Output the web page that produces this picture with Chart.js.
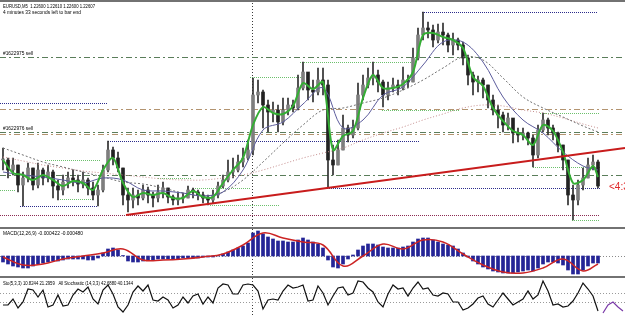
<!DOCTYPE html>
<html><head><meta charset="utf-8">
<script src="https://cdn.jsdelivr.net/npm/chart.js@4.4.1/dist/chart.umd.min.js"></script>
<style>
html,body{margin:0;padding:0;background:#fff;width:625px;height:317px;overflow:hidden;position:relative}
canvas{position:absolute;left:0}
.sep{position:absolute;left:0;width:625px;height:2px;background:#727272}
</style></head><body>
<canvas id="main" width="625" height="227" style="top:0"></canvas>
<div class="sep" style="top:227px"></div>
<canvas id="macd" width="625" height="47" style="top:229px"></canvas>
<div class="sep" style="top:276px"></div>
<canvas id="sto" width="625" height="39" style="top:278px"></canvas>
<div class="sep" style="top:0;height:2px"></div>
<script>
// ---------- DATA ----------
const symbolText = 'EURUSD,M5  1.22600 1.22610 1.22600 1.22607';
const timerText = '4 minutes 33 seconds left to bar end';
const countdownText = '<4:33';
const macdText = 'MACD(12,26,9) -0.000422 -0.000480';
const stoText = 'Sto(5,3,3) 10.8244 21.2959   All Stochastic (14,3,3) 42.6880 40.1344';

const closes = [1.22737,1.22687,1.22712,1.22612,1.22647,1.22697,1.22612,1.22687,1.22647,1.22677,
 1.22607,1.22587,1.22627,1.22647,1.22637,1.22617,1.22637,1.22597,1.22562,1.22587,
 1.22687,1.22787,1.22747,1.22697,1.22562,1.22537,1.22562,1.22547,1.22587,1.22562,
 1.22547,1.22577,1.22597,1.22552,1.22537,1.22547,1.22547,1.22587,1.22577,1.22562,
 1.22547,1.22537,1.22562,1.22607,1.22637,1.22677,1.22687,1.22727,1.22747,1.22787,
 1.23062,1.23077,1.23012,1.22977,1.22987,1.22927,1.22987,1.23012,1.22997,1.23097,
 1.23177,1.23087,1.23077,1.23137,1.23112,1.22737,1.22712,1.22787,1.22897,1.22862,
 1.22897,1.23062,1.23112,1.23147,1.23162,1.23127,1.23062,1.23097,1.23112,1.23097,
 1.23137,1.23127,1.23247,1.23362,1.23397,1.23387,1.23337,1.23377,1.23362,1.23312,
 1.23337,1.23312,1.23247,1.23162,1.23127,1.23137,1.23112,1.23037,1.22987,1.22962,
 1.22912,1.22947,1.22872,1.22862,1.22872,1.22847,1.22762,1.22887,1.22937,1.22897,
 1.22872,1.22812,1.22737,1.22562,1.22537,1.22612,1.22647,1.22712,1.22727,1.22607];

const highs = [1.22797,1.22747,1.22747,1.22712,1.22677,1.22722,1.22697,1.22722,1.22697,1.22712,
 1.22687,1.22637,1.22662,1.22677,1.22687,1.22662,1.22677,1.22647,1.22627,1.22612,
 1.22712,1.22832,1.22802,1.22777,1.22697,1.22597,1.22597,1.22587,1.22612,1.22602,
 1.22577,1.22612,1.22627,1.22597,1.22562,1.22572,1.22572,1.22607,1.22597,1.22587,
 1.22577,1.22562,1.22587,1.22627,1.22662,1.22737,1.22747,1.22762,1.22797,1.22837,
 1.23147,1.23137,1.23087,1.23037,1.23027,1.23012,1.23047,1.23047,1.23037,1.23162,
 1.23227,1.23162,1.23137,1.23197,1.23197,1.23137,1.22812,1.22837,1.22962,1.22912,
 1.22937,1.23122,1.23162,1.23197,1.23227,1.23187,1.23137,1.23127,1.23147,1.23137,
 1.23202,1.23162,1.23297,1.23397,1.23477,1.23427,1.23412,1.23417,1.23422,1.23372,
 1.23372,1.23347,1.23327,1.23262,1.23177,1.23157,1.23147,1.23112,1.23062,1.23012,
 1.22977,1.22972,1.22937,1.22897,1.22897,1.22877,1.22862,1.22912,1.22972,1.22947,
 1.22912,1.22877,1.22812,1.22737,1.22612,1.22637,1.22697,1.22747,1.22762,1.22737];

const lows = [1.22687,1.22647,1.22662,1.22577,1.22507,1.22627,1.22587,1.22597,1.22612,1.22627,
 1.22547,1.22537,1.22562,1.22597,1.22607,1.22577,1.22597,1.22562,1.22537,1.22507,
 1.22577,1.22677,1.22712,1.22677,1.22512,1.22477,1.22497,1.22512,1.22537,1.22522,
 1.22502,1.22527,1.22547,1.22522,1.22512,1.22512,1.22522,1.22547,1.22547,1.22537,
 1.22522,1.22512,1.22522,1.22547,1.22597,1.22627,1.22647,1.22677,1.22702,1.22737,
 1.22762,1.23022,1.22897,1.22877,1.22927,1.22877,1.22912,1.22962,1.22977,1.22987,
 1.23087,1.23037,1.23027,1.23062,1.23062,1.22597,1.22662,1.22712,1.22787,1.22827,
 1.22847,1.22887,1.23037,1.23097,1.23112,1.23077,1.23002,1.23037,1.23077,1.23062,
 1.23087,1.23097,1.23127,1.23237,1.23337,1.23347,1.23302,1.23322,1.23312,1.23277,
 1.23262,1.23287,1.23212,1.23112,1.23062,1.23077,1.23047,1.22997,1.22962,1.22897,
 1.22877,1.22887,1.22822,1.22827,1.22837,1.22812,1.22702,1.22747,1.22877,1.22862,
 1.22837,1.22777,1.22687,1.22512,1.22437,1.22512,1.22587,1.22647,1.22687,1.22597];

// fast MA (green), sampled every 2 bars
const fastBars = [0,2,4,6,8,10,12,14,16,18,20,22,24,26,28,30,32,34,36,38,40,42,44,46,48,50,52,54,56,58,
 60,62,64,66,68,70,72,74,76,78,80,82,84,86,88,90,92,94,96,98,100,102,104,106,108,110,112,114,116,118,119];
const fastMA = [1.22737,1.22672,1.22662,1.22637,1.22662,1.22637,1.22607,1.22632,1.22622,1.22587,
 1.22687,1.22747,1.22622,1.22552,1.22572,1.22562,1.22572,1.22547,1.22547,1.22582,
 1.22552,1.22552,1.22622,1.22687,1.22747,1.22912,1.23002,1.22972,1.22967,1.23007,
 1.23122,1.23092,1.23127,1.22787,1.22857,1.22882,1.23047,1.23162,1.23097,1.23097,
 1.23117,1.23177,1.23362,1.23372,1.23352,1.23337,1.23297,1.23152,1.23107,1.22997,
 1.22932,1.22882,1.22862,1.22812,1.22912,1.22882,1.22777,1.22622,1.22637,1.22707,1.22652];

// slower MAs, sampled every 4 bars
const slowBars = [0,4,8,12,16,20,24,28,32,36,40,44,48,52,56,60,64,68,72,76,80,84,88,92,96,100,104,108,112,116,119];
const midMA = [1.22677,1.22662,1.22652,1.22637,1.22622,1.22647,1.22637,1.22587,1.22582,1.22572,
 1.22557,1.22577,1.22687,1.22887,1.22927,1.23017,1.23097,1.22897,1.22937,1.23062,
 1.23102,1.23212,1.23327,1.23327,1.23227,1.23052,1.22937,1.22872,1.22777,1.22707,1.22687];
const longMA = [1.22797,1.22762,1.22727,1.22702,1.22677,1.22652,1.22627,1.22617,1.22597,1.22572,
 1.22557,1.22577,1.22637,1.22727,1.22822,1.22912,1.22987,1.22997,1.23022,1.23047,
 1.23087,1.23137,1.23197,1.23252,1.23237,1.23147,1.23052,1.22997,1.22952,1.22907,1.22877];
const veryLongMA = [1.22752,1.22732,1.22712,1.22697,1.22682,1.22672,1.22662,1.22652,1.22642,1.22637,
 1.22637,1.22647,1.22662,1.22687,1.22717,1.22747,1.22772,1.22797,1.22837,1.22872,
 1.22902,1.22937,1.22967,1.22997,1.23012,1.23007,1.22987,1.22972,1.22947,1.22917,1.22897];

// trend line (bar, price)
const trendBars = [24.6, 124.4];
const trendPrices = [1.22462, 1.22797];

// horizontal levels
const levelPrices = [1.23252,1.23022,1.22992,1.22877,1.22865,1.22832,1.22662,1.22597,1.22507,1.22462,
 1.22437,1.22702,1.22972,1.23477,1.23227,1.23152,1.22987,1.22737,1.22542,1.22647,1.22597,1.22512,1.22587];
const levelStart = [-0.6,-0.6,-0.6,-0.6,-0.6,21,-0.6,64.8,3.4,-0.6,
 113.8,106,107.4,83.8,59.4,49.4,75.8,8.4,11.4,31,38,41.4,-0.6];
const levelEnd = [124.4,20.8,124.4,124.4,124.4,83.4,124.4,119.4,18.8,119.4,
 119.4,119.4,119.4,119,81.8,59.8,91.4,19.4,18,37.8,49.4,55.4,2.4];
const levelKinds = ['ddGreen','dotNavy','ddTan','ddGreen','ddTan','dotNavy','ddGreen','dotNavy','dotNavy','dotMaroon',
 'dotGreen','dotGreen','dotGreen','dotNavy','dotGreen','dotGreen','dotGreen','dotGreen','dotGreen','dotGreen','dotGreen','dotGreen','dotGreen'];
const orderLabels = ['#1622975 sell', '#1622976 sell'];
const orderLabelPrices = [1.23252, 1.22877];
const lastPrice = 1.22607;
const separatorBar = 49.7;

// MACD
const macdHist = [-0.00036,-0.00048,-0.0006,-0.00066,-0.00072,-0.00072,-0.0006,-0.00048,-0.00042,-0.00036,
 -0.0003,-0.0003,-0.00024,-0.00018,-0.00018,-0.00018,-0.00018,-0.00024,-0.00024,-0.00012,
 0.00018,0.00042,0.00048,0.00036,0.00003,-0.0003,-0.00036,-0.00036,-0.0003,-0.00024,
 -0.00024,-0.00018,-0.00018,-0.00018,-0.00018,-0.00018,-0.00012,-0.00012,-0.00012,-0.00012,
 -0.00006,-0.00006,-0.00006,0.00003,0.00012,0.00024,0.00036,0.00048,0.0006,0.00078,
 0.00138,0.0015,0.00132,0.00114,0.00102,0.0009,0.0009,0.00084,0.00084,0.00096,
 0.00108,0.00096,0.00084,0.00072,0.00048,-0.00024,-0.00066,-0.00072,-0.00048,-0.00018,
 0.00006,0.00036,0.0006,0.00072,0.00072,0.00066,0.00054,0.00048,0.00048,0.00048,
 0.00054,0.0006,0.00084,0.00102,0.00108,0.00108,0.00096,0.00084,0.00072,0.00066,
 0.0006,0.00042,0.00018,-0.00006,-0.0003,-0.00048,-0.00066,-0.00078,-0.0009,-0.00096,
 -0.00102,-0.00102,-0.00102,-0.00096,-0.0009,-0.00084,-0.0009,-0.00072,-0.00048,-0.00036,
 -0.00036,-0.00042,-0.00054,-0.00084,-0.00108,-0.00108,-0.00084,-0.0006,-0.00042,-0.00042];
const macdSignal = [-0.00006,-0.00054,-0.00048,-0.00018,0,0.00018,0.00042,-0.00024,-0.00024,-0.00018,
 -0.00006,0.00012,0.00066,0.00138,0.00108,0.00084,0.00066,-0.0006,0,0.00072,
 0.00042,0.00096,0.00084,0.00012,-0.00054,-0.00096,-0.00102,-0.00072,-0.00018,-0.0009,-0.00048];

// Stochastic
const stoMain = [30,30,45,22.5,37.5,70,67.5,50,67.5,25,
 30,55,27.5,30,55,70,62.5,75,45,32.5,
 67.5,80,57.5,25,12.5,30,62.5,77.5,65,80,
 42.5,40,50,42.5,22.5,30,50,35,52.5,57.5,
 32.5,50,35,72.5,82.5,80,57.5,57.5,80,82.5,
 80,65,20,42.5,45,42.5,65,80,72.5,75,
 80,40,42.5,77.5,60,30,52.5,72.5,75,55,
 60,90,87.5,72.5,62.5,37.5,25,57.5,80,70,
 72.5,52.5,72.5,87.5,70,72.5,55,52.5,60,57.5,
 37.5,37.5,17.5,22.5,32.5,47.5,52.5,32.5,25,42.5,
 60,45,30,37.5,45,65,45,55,90,65,
 30,32.5,25,27.5,40,60,85,70,52.5,15];
const stoTailBars = [120,121,122,123,124];
const stoTail = [10,30,37.5,25,15];
const stoLevels = [60, 37.5];

// ---------- STYLES ----------
const levelStyles = {
  ddGreen:{color:'#5a7d5a', dash:[6,3,2,3]},
  ddTan:{color:'#b39470', dash:[6,3,2,3]},
  dotNavy:{color:'#2c2c8c', dash:[1,1]},
  dotGreen:{color:'#6cc06c', dash:[1,1]},
  dotMaroon:{color:'#8c2c54', dash:[1,1]}
};
const FONT = '"Liberation Sans", Arial, sans-serif';

// ---------- BUILD ----------
const bars = closes.map((_, i) => i);
const opens = closes.map((c, i) => i ? closes[i - 1] : c);
const pts = (xs, ys) => xs.map((x, i) => ({x, y: ys[i]}));

function baseOpts(ymin, ymax){
  return {responsive:false, animation:false, devicePixelRatio:1, events:[],
    layout:{padding:0},
    plugins:{legend:{display:false}, tooltip:{enabled:false}},
    scales:{
      x:{type:'linear', min:-0.6, max:124.4, display:false, offset:false, grid:{offset:false}},
      y:{type:'linear', min:ymin, max:ymax, display:false}
    }};
}

const sepPlugin = {
  id:'sep',
  beforeDatasetsDraw(chart){
    const {ctx, scales:{x}} = chart;
    const px = Math.round(x.getPixelForValue(separatorBar)) + 0.5;
    ctx.save(); ctx.strokeStyle = '#3a3a3a'; ctx.lineWidth = 1; ctx.setLineDash([1,2]);
    ctx.beginPath(); ctx.moveTo(px, 0); ctx.lineTo(px, chart.height); ctx.stroke(); ctx.restore();
  }
};

const levelPlugin = {
  id:'levels',
  beforeDatasetsDraw(chart){
    const {ctx, scales:{x, y}} = chart;
    ctx.save(); ctx.lineWidth = 1;
    levelPrices.forEach((p, i) => {
      const st = levelStyles[levelKinds[i]];
      const py = Math.round(y.getPixelForValue(p)) + 0.5;
      ctx.strokeStyle = st.color; ctx.setLineDash(st.dash);
      ctx.beginPath(); ctx.moveTo(x.getPixelForValue(levelStart[i]), py);
      ctx.lineTo(x.getPixelForValue(levelEnd[i]), py); ctx.stroke();
    });
    ctx.restore();
  },
  afterDraw(chart){
    const {ctx, scales:{x, y}} = chart;
    ctx.save(); ctx.fillStyle = '#000'; ctx.textBaseline = 'alphabetic';
    ctx.font = '6px ' + FONT;
    ctx.fillText(symbolText, 3, 8, 92);
    ctx.fillText(timerText, 3, 14, 78);
    orderLabels.forEach((t, i) => ctx.fillText(t, 3, y.getPixelForValue(orderLabelPrices[i]) - 2.5, 30));
    ctx.fillStyle = '#e02828'; ctx.font = '10px ' + FONT;
    ctx.fillText(countdownText, x.getPixelForValue(121.2), y.getPixelForValue(lastPrice) + 3.5);
    ctx.restore();
  }
};

new Chart(document.getElementById('main'), {
  type:'bar',
  data:{datasets:[
    {type:'line', data:pts(trendBars, trendPrices), borderColor:'#c81c1c', borderWidth:2, pointRadius:0, order:0},
    {type:'line', data:pts(fastBars, fastMA), borderColor:'#34ad34', borderWidth:2, pointRadius:0, tension:0.3, order:0},
    {type:'line', data:pts(slowBars, midMA), borderColor:'#5c5c9c', borderWidth:1, pointRadius:0, tension:0.35, order:1},
    {type:'line', data:pts(slowBars, longMA), borderColor:'#707070', borderWidth:1, borderDash:[2,2], pointRadius:0, tension:0.35, order:1},
    {type:'line', data:pts(slowBars, veryLongMA), borderColor:'#c48c8c', borderWidth:1, borderDash:[1,2], pointRadius:0, tension:0.35, order:1},
    {type:'bar', data:bars.map(i => ({x:i, y:[opens[i], closes[i]]})),
      backgroundColor:bars.map(i => closes[i] >= opens[i] ? '#7e7e7e' : '#222222'),
      barThickness:3, grouped:false, minBarLength:1, order:2},
    {type:'bar', data:bars.map(i => ({x:i, y:[lows[i], highs[i]]})),
      backgroundColor:'#2e2e2e', barThickness:1, grouped:false, minBarLength:1, order:3}
  ]},
  options:baseOpts(1.22402, 1.23537),
  plugins:[sepPlugin, levelPlugin]
});

const macdPlugin = {
  id:'macdTxt',
  beforeDatasetsDraw(chart){
    const {ctx, scales:{y}} = chart;
    const py = Math.round(y.getPixelForValue(0)) + 0.5;
    ctx.save(); ctx.strokeStyle = '#8a8a8a'; ctx.setLineDash([1,2]); ctx.lineWidth = 1;
    ctx.beginPath(); ctx.moveTo(0, py); ctx.lineTo(chart.width, py); ctx.stroke(); ctx.restore();
  },
  afterDraw(chart){
    const {ctx} = chart;
    ctx.save(); ctx.fillStyle = '#000'; ctx.font = '6px ' + FONT;
    ctx.fillText(macdText, 3, 6, 80); ctx.restore();
  }
};
new Chart(document.getElementById('macd'), {
  type:'bar',
  data:{datasets:[
    {type:'line', data:pts(slowBars, macdSignal), borderColor:'#cc2424', borderWidth:1.5, pointRadius:0, tension:0.4, order:0},
    {type:'bar', data:bars.map(i => ({x:i, y:macdHist[i]})), backgroundColor:'#242496', barThickness:3, grouped:false, order:1}
  ]},
  options:baseOpts(-0.0012, 0.00162),
  plugins:[sepPlugin, macdPlugin]
});

const stoPlugin = {
  id:'stoTxt',
  beforeDatasetsDraw(chart){
    const {ctx, scales:{y}} = chart;
    ctx.save(); ctx.strokeStyle = '#9a9a9a'; ctx.setLineDash([1,2]); ctx.lineWidth = 1;
    stoLevels.forEach(v => {
      const py = Math.round(y.getPixelForValue(v)) + 0.5;
      ctx.beginPath(); ctx.moveTo(0, py); ctx.lineTo(chart.width, py); ctx.stroke();
    });
    ctx.restore();
  },
  afterDraw(chart){
    const {ctx} = chart;
    ctx.save(); ctx.fillStyle = '#000'; ctx.font = '6px ' + FONT;
    ctx.fillText(stoText, 3, 6.5, 130); ctx.restore();
  }
};
new Chart(document.getElementById('sto'), {
  type:'line',
  data:{datasets:[
    {data:pts(bars, stoMain), borderColor:'#111111', borderWidth:1.2, pointRadius:0, tension:0},
    {data:pts(stoTailBars, stoTail), borderColor:'#7a3aa8', borderWidth:1.2, pointRadius:0, tension:0}
  ]},
  options:baseOpts(0, 97.5),
  plugins:[sepPlugin, stoPlugin]
});
</script>
</body></html>
